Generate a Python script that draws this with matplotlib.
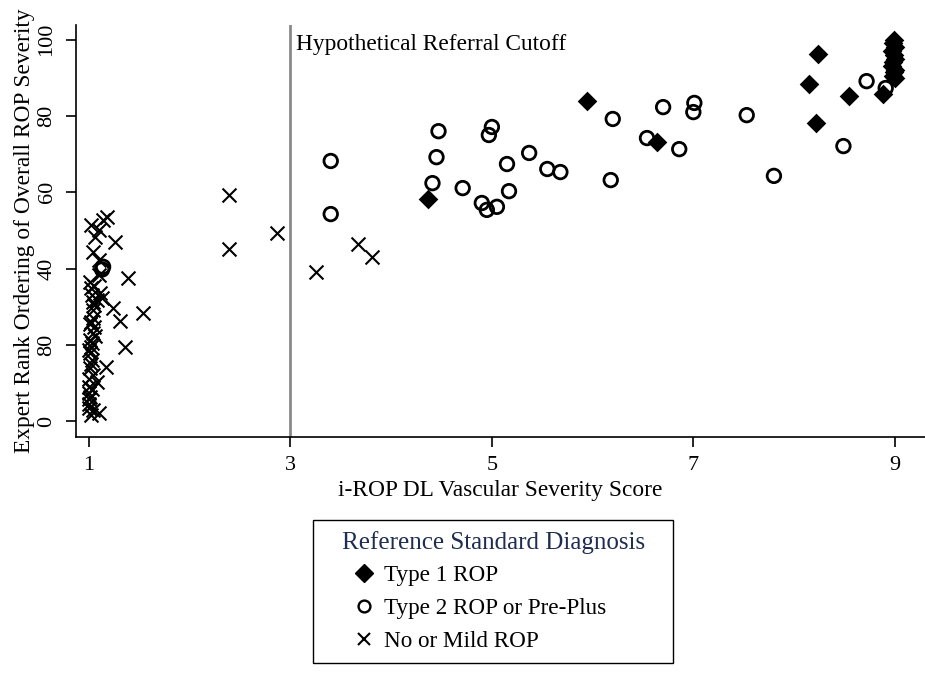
import matplotlib
matplotlib.use("Agg")
import matplotlib.pyplot as plt
from matplotlib.lines import Line2D
from matplotlib.patches import Rectangle

plt.rcParams['font.family'] = ['Liberation Serif', 'DejaVu Serif']

# Type 1 ROP (filled diamonds)
t1_x = [4.37, 5.94, 6.64, 8.15, 8.24, 8.22, 8.55, 8.88,
        8.99, 8.98, 9.00, 8.97, 8.99, 9.00, 8.98, 8.97, 9.00, 8.99, 8.98, 9.00]
t1_y = [58.2, 84.0, 73.2, 88.3, 96.2, 78.1, 85.2, 85.7,
        100.0, 99.0, 98.0, 97.0, 96.0, 95.0, 94.0, 93.0, 92.0, 91.5, 90.5, 90.0]

# Type 2 ROP or Pre-Plus (open circles)
t2_x = [1.14, 1.13, 3.40, 3.40, 4.47, 4.45, 4.41, 4.71, 5.00, 4.97, 5.15, 5.37,
        5.55, 5.68, 5.17, 4.90, 4.95, 5.05, 6.20, 6.70, 7.01, 7.00, 7.53,
        6.54, 6.86, 6.18, 7.80, 8.72, 8.49, 8.91]
t2_y = [40.5, 39.8, 68.2, 54.3, 76.0, 69.2, 62.4, 61.1, 77.1, 75.0, 67.4, 70.3,
        66.1, 65.3, 60.3, 57.2, 55.4, 56.2, 79.2, 82.3, 83.4, 81.0, 80.2,
        74.2, 71.3, 63.2, 64.3, 89.1, 72.1, 87.3]

# No or Mild ROP (crosses)
nm_x = [2.39, 2.39, 2.87, 3.67, 3.81, 3.25,
        1.02, 1.14, 1.18, 1.10, 1.06, 1.26, 1.04, 1.10, 1.10, 1.39, 1.01, 1.02,
        1.11, 1.13, 1.04, 1.24, 1.54, 1.31, 1.04, 1.04, 1.05, 1.04, 1.01, 1.02,
        1.36, 1.01, 1.03, 1.17, 1.01, 1.04, 1.08, 1.00, 1.00, 1.00, 1.00, 1.04,
        1.10, 1.02, 1.03, 1.05, 1.02, 1.06, 1.00, 1.02, 1.00, 1.03, 1.01, 1.00,
        1.05, 1.08, 1.01, 1.03]
nm_y = [59.3, 45.1, 49.3, 46.4, 43.1, 39.1,
        51.4, 52.7, 53.5, 50.1, 48.3, 47.0, 44.4, 42.3, 38.4, 37.5, 36.6, 34.9,
        33.6, 32.4, 31.3, 29.7, 28.4, 26.3, 29.2, 27.1, 24.8, 23.2, 21.3, 19.5,
        19.5, 17.8, 16.1, 14.3, 14.0, 12.2, 10.4, 9.1, 7.5, 5.8, 4.5, 3.0,
        2.3, 1.7, 33.0, 30.5, 26.0, 22.5, 18.8, 15.0, 11.0, 8.5, 6.5, 3.5,
        35.5, 31.8, 25.5, 20.5]

xticks = [1, 3, 5, 7, 9]
yticks = [0, 20, 40, 60, 80, 100]
ytick_labels = ['0', '80', '40', '60', '80', '100']
cutoff = 3

W, H = 925, 691
fig = plt.figure(figsize=(W/100, H/100), dpi=100)
ax = fig.add_axes([76/W, 254/H, 849/W, 412/H])

ax.scatter(nm_x, nm_y, marker='x', s=100, c='black', linewidths=1.5, zorder=3)
ax.scatter(t2_x, t2_y, marker='o', s=95, facecolors='none', edgecolors='black',
           linewidths=2.0, zorder=3)
ax.scatter(t1_x, t1_y, marker='D', s=100, c='black', linewidths=0, zorder=4)

ax.axvline(cutoff, color='#8a8a8a', linewidth=2, zorder=2)
ax.text(cutoff + 0.06, 98.8, 'Hypothetical Referral Cutoff', fontsize=16.8,
        ha='left', va='center')

ax.set_xlim(0.871, 9.30)
ax.set_ylim(-4.06, 103.8)
ax.set_xticks(xticks)
ax.set_xticklabels([str(v) for v in xticks], fontsize=16)
ax.set_yticks(yticks)
ax.set_yticklabels(ytick_labels, fontsize=16, rotation=90, va='center')
ax.tick_params(direction='out', length=7, width=1.2, pad=7)
for s in ['top', 'right']:
    ax.spines[s].set_visible(False)
for s in ['left', 'bottom']:
    ax.spines[s].set_linewidth(1.2)

ax.set_xlabel('i-ROP DL Vascular Severity Score', fontsize=16.8, labelpad=3)
ax.set_ylabel('Expert Rank Ordering of Overall ROP Severity', fontsize=16.8, labelpad=2)

# legend box, title and entries
fig.patches.append(Rectangle((313/W, 1 - 663/H), 360/W, 143/H,
                             transform=fig.transFigure, fill=False,
                             edgecolor='black', linewidth=1.0))
fig.text(494/W, 1 - 543/H, 'Reference Standard Diagnosis', fontsize=18,
         color='#1f2d50', ha='center', va='center')

handles = [
    Line2D([], [], marker='D', linestyle='none', color='black', markersize=9),
    Line2D([], [], marker='o', linestyle='none', markerfacecolor='none',
           markeredgecolor='black', markeredgewidth=1.7, markersize=8.5),
    Line2D([], [], marker='x', linestyle='none', color='black', markersize=8.5,
           markeredgewidth=1.5),
]
labels = ['Type 1 ROP', 'Type 2 ROP or Pre-Plus', 'No or Mild ROP']
leg = fig.legend(handles, labels, loc='upper left',
                 bbox_to_anchor=(352/W, 1 - 565/H), frameon=False,
                 fontsize=16.7, borderpad=0, labelspacing=0.5,
                 handletextpad=0.36, handlelength=1.0, borderaxespad=0)

fig.savefig('out.png', dpi=100)
